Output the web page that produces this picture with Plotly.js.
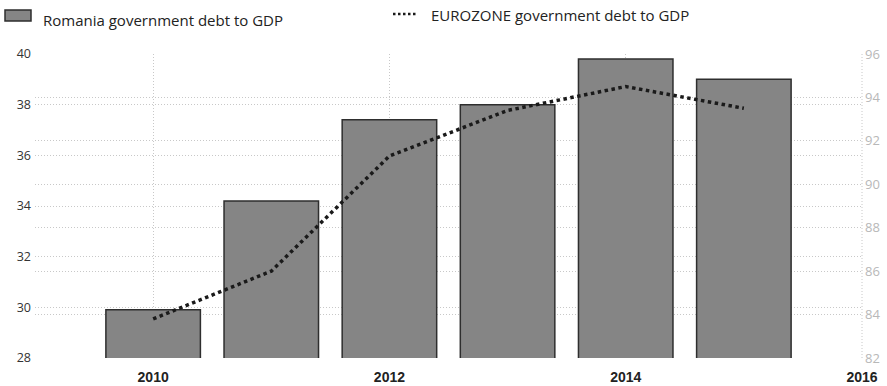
<!DOCTYPE html>
<html>
<head>
<meta charset="utf-8">
<script src="https://cdn.plot.ly/plotly-3.0.1.min.js"></script>
<style>html,body{margin:0;padding:0;background:#fff;}#chart{width:887px;height:386px;}</style>
</head>
<body>
<div id="chart"></div>
<script>
const years = [2010, 2011, 2012, 2013, 2014, 2015];
const romaniaDebt = [29.9, 34.2, 37.4, 38.0, 39.8, 39.0];
const eurozoneDebt = [83.8, 86.0, 91.3, 93.4, 94.5, 93.5];
const romaniaName = 'Romania government debt to GDP';
const eurozoneName = 'EUROZONE government debt to GDP';
const xTickVals = [2010, 2012, 2014, 2016];
const xTickText = ['2010', '2012', '2014', '2016'];

const traces = [
  {
    type: 'bar', x: years, y: romaniaDebt, name: romaniaName,
    width: 0.8,
    marker: {color: '#858585', line: {color: '#2e2e2e', width: 1.5}},
    showlegend: false
  },
  {
    type: 'scatter', mode: 'lines', x: years, y: eurozoneDebt, name: eurozoneName,
    yaxis: 'y2',
    line: {color: '#1a1a1a', width: 3.5, dash: 'dot'},
    showlegend: false
  }
];

const gridStyle = {gridcolor: '#c8c8c8', griddash: '1px,2px', gridwidth: 1};

// plot area: left 35, right 862, top 54, bottom 358
const PL = 35, PW = 827, PB = 358, PH = 304;
const px = v => (v - PL) / PW;
const py = v => (PB - v) / PH;

const layout = {
  width: 887, height: 386,
  margin: {l: 35, r: 25, t: 54, b: 28},
  paper_bgcolor: '#fff', plot_bgcolor: '#fff',
  font: {family: 'Open Sans, sans-serif', color: '#333'},
  showlegend: false,
  xaxis: Object.assign({
    range: [2009, 2016], tickvals: xTickVals, ticktext: xTickText,
    showline: false, zeroline: false, ticks: '', ticklabelstandoff: 9,
    tickfont: {family: 'Liberation Sans, Arial, sans-serif', size: 14, color: '#222', weight: 'bold'}
  }, gridStyle),
  yaxis: Object.assign({
    range: [28, 40], dtick: 2, tick0: 28, showline: false, zeroline: false, ticks: '',
    ticklabelstandoff: 3,
    tickfont: {family: 'Open Sans, sans-serif', size: 12.5, color: '#333'}
  }, gridStyle),
  yaxis2: Object.assign({
    range: [82, 96], dtick: 2, tick0: 82, overlaying: 'y', side: 'right',
    showline: false, zeroline: false, ticks: '', ticklabelstandoff: 2,
    tickfont: {family: 'Open Sans, sans-serif', size: 13, color: '#b8b8b8'}
  }, gridStyle),
  annotations: [
    {xref: 'paper', yref: 'paper', x: px(41), y: py(20), xanchor: 'left', yanchor: 'middle',
     text: romaniaName, showarrow: false,
     font: {family: 'Open Sans, sans-serif', size: 15, color: '#222'}},
    {xref: 'paper', yref: 'paper', x: px(429), y: py(15), xanchor: 'left', yanchor: 'middle',
     text: eurozoneName, showarrow: false,
     font: {family: 'Open Sans, sans-serif', size: 15, color: '#222'}}
  ],
  shapes: [
    {type: 'line', xref: 'paper', yref: 'paper', x0: 1, x1: 1, y0: 0, y1: 1,
     line: {color: '#c8c8c8', width: 1, dash: '1px,2px'}},
    {type: 'rect', xref: 'paper', yref: 'paper', x0: px(5), x1: px(31), y0: py(21), y1: py(10),
     fillcolor: '#858585', line: {color: '#2e2e2e', width: 1.5}},
    {type: 'line', xref: 'paper', yref: 'paper', x0: px(393), x1: px(416), y0: py(14), y1: py(14),
     line: {color: '#1a1a1a', width: 2.5, dash: '2.5px,2.5px'}}
  ]
};

Plotly.newPlot('chart', traces, layout, {displayModeBar: false, staticPlot: true});
</script>
</body>
</html>
